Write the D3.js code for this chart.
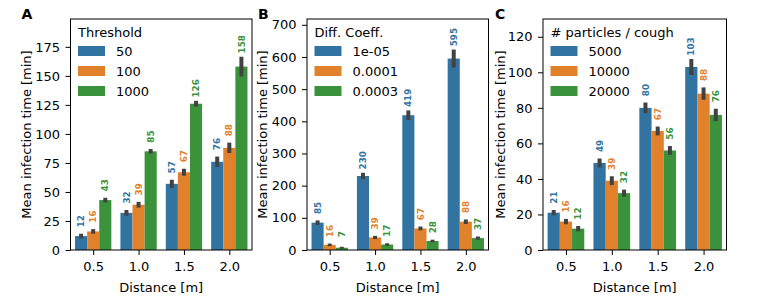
<!DOCTYPE html>
<html>
<head>
<meta charset="utf-8">
<script src="https://cdn.jsdelivr.net/npm/d3@7"></script>
<style>
  body { margin: 0; background: #fff; }
  svg { font-family: "DejaVu Sans", sans-serif; }
</style>
</head>
<body>
<svg id="chart" width="761" height="304"></svg>
<script>
// Data
const distances = ["0.5", "1.0", "1.5", "2.0"];
const colors = ["#3274a1", "#e1812c", "#3a923a"];

// panel A : threshold
const thresholdLabels = ["50", "100", "1000"];
const thresholdValues = [[12, 32, 57, 76], [16, 39, 67, 88], [43, 85, 126, 158]];
const thresholdErr = [[2, 2.5, 3.5, 4.5], [2, 2.5, 3, 4.5], [2, 2, 2.5, 8.5]];
const thresholdTicks = [0, 25, 50, 75, 100, 125, 150, 175];

// panel B : diffusion coefficient
const diffLabels = ["1e-05", "0.0001", "0.0003"];
const diffValues = [[85, 230, 419, 595], [16, 39, 67, 88], [7, 17, 28, 37]];
const diffErr = [[7, 10, 15, 28], [4, 5, 6, 7], [3, 4, 4, 5]];
const diffTicks = [0, 100, 200, 300, 400, 500, 600, 700];

// panel C : particles per cough
const particleLabels = ["5000", "10000", "20000"];
const particleValues = [[21, 49, 80, 103], [16, 39, 67, 88], [12, 32, 56, 76]];
const particleErr = [[1.5, 2.5, 3, 4.5], [1.5, 2.5, 2.5, 3.5], [1.5, 2, 2.5, 3.5]];
const particleTicks = [0, 20, 40, 60, 80, 100, 120];

const panels = [
    {letter: 'A', title: 'Threshold', labels: thresholdLabels, values: thresholdValues, err: thresholdErr,
     ticks: thresholdTicks, ymax: 199, left: 70.5, width: 181.5, letterX: 21.5, ylabelX: 26.5},
    {letter: 'B', title: 'Diff. Coeff.', labels: diffLabels, values: diffValues, err: diffErr,
     ticks: diffTicks, ymax: 718, left: 307, width: 181.5, letterX: 258, ylabelX: 262.5},
    {letter: 'C', title: '# particles / cough', labels: particleLabels, values: particleValues, err: particleErr,
     ticks: particleTicks, ymax: 130, left: 543, width: 183.5, letterX: 495, ylabelX: 500}
];

const top_y = 19, bottom_y = 250;
const font_size = 13;

const svg = d3.select('#chart');

panels.forEach(p => {
    const g = svg.append('g');

    const x = d3.scaleLinear().domain([-0.5, 3.5]).range([p.left, p.left + p.width]);
    const y = d3.scaleLinear().domain([0, p.ymax]).range([bottom_y, top_y]);
    const bw = 0.8 / 3;

    // bars, error bars and value labels
    p.values.forEach((vals, s) => {
        vals.forEach((v, j) => {
            const cx = j - 0.4 + (s + 0.5) * bw;
            g.append('rect')
                .attr('x', x(cx - bw / 2))
                .attr('width', x(bw) - x(0))
                .attr('y', y(v))
                .attr('height', y(0) - y(v))
                .attr('fill', colors[s]);

            const e = p.err[s][j];
            g.append('line')
                .attr('x1', x(cx)).attr('x2', x(cx))
                .attr('y1', y(v - e)).attr('y2', y(v + e))
                .attr('stroke', '#424242')
                .attr('stroke-width', 4);

            g.append('text')
                .attr('transform', `translate(${x(cx)}, ${y(v + e) - 12.5}) rotate(-90)`)
                .attr('text-anchor', 'middle')
                .attr('dy', '0.35em')
                .attr('font-size', 8.8)
                .attr('font-weight', 'bold')
                .attr('fill', colors[s])
                .text(v);
        });
    });

    // axes
    const yAxis = g.append('g')
        .attr('transform', `translate(${p.left}, 0)`)
        .call(d3.axisLeft(y).tickValues(p.ticks).tickSize(5).tickPadding(5.5).tickSizeOuter(0));
    const xAxis = g.append('g')
        .attr('transform', `translate(0, ${bottom_y})`)
        .call(d3.axisBottom(x).tickValues([0, 1, 2, 3]).tickFormat(i => distances[i])
              .tickSize(5).tickPadding(6.5).tickSizeOuter(0));
    [xAxis, yAxis].forEach(a => {
        a.select('.domain').remove();
        a.selectAll('.tick line').attr('stroke', '#000').attr('stroke-width', 1);
        a.selectAll('.tick text').attr('font-size', font_size).attr('fill', '#000')
            .attr('font-family', '"DejaVu Sans", sans-serif');
    });

    // frame
    g.append('rect')
        .attr('x', p.left).attr('y', top_y)
        .attr('width', p.width).attr('height', bottom_y - top_y)
        .attr('fill', 'none').attr('stroke', '#000').attr('stroke-width', 1);

    // axis labels
    g.append('text')
        .attr('x', p.left + p.width / 2).attr('y', 291.5)
        .attr('text-anchor', 'middle').attr('font-size', font_size)
        .text('Distance [m]');
    g.append('text')
        .attr('transform', `translate(${p.ylabelX}, ${(top_y + bottom_y) / 2}) rotate(-90)`)
        .attr('text-anchor', 'middle').attr('dy', '0.35em').attr('font-size', font_size)
        .text('Mean infection time [min]');

    // panel letter
    g.append('text')
        .attr('x', p.letterX).attr('y', 19.3)
        .attr('font-size', 14).attr('font-weight', 'bold')
        .text(p.letter);

    // legend
    const lx = p.left + 7.5;
    g.append('text').attr('x', lx).attr('y', 36.5).attr('font-size', font_size).text(p.title);
    p.labels.forEach((lab, s) => {
        const ly = 46 + s * 20;
        g.append('rect').attr('x', lx).attr('y', ly).attr('width', 27).attr('height', 10)
            .attr('fill', colors[s]);
        g.append('text').attr('x', lx + 38).attr('y', ly + 5).attr('dy', '0.35em')
            .attr('font-size', font_size).text(lab);
    });
});
</script>
</body>
</html>
